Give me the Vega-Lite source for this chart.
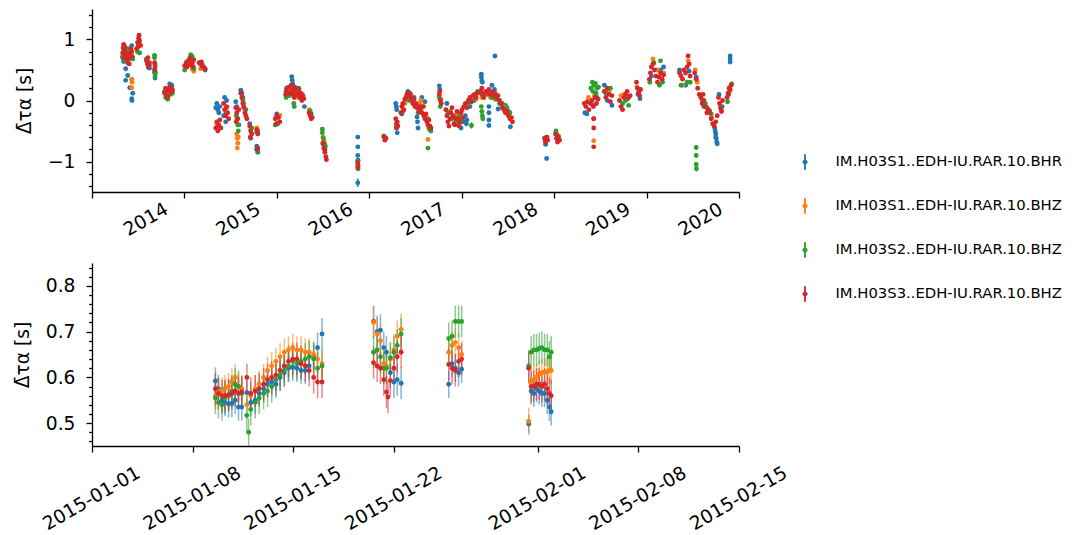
{
"$schema":"https://vega.github.io/schema/vega-lite/v6.json",
"padding":{"left":13,"top":6,"right":5,"bottom":5},
"bounds":"flush",
"spacing":71,
"datasets":{
"names":[{"s":1,"station":"IM.H03S1..EDH-IU.RAR.10.BHR"},{"s":2,"station":"IM.H03S1..EDH-IU.RAR.10.BHZ"},{"s":3,"station":"IM.H03S2..EDH-IU.RAR.10.BHZ"},{"s":4,"station":"IM.H03S3..EDH-IU.RAR.10.BHZ"}],
"top":[
{"t":"2013-05-02","s":1,"v":0.70},{"t":"2013-05-06","s":1,"v":0.64},{"t":"2013-05-10","s":1,"v":0.75},{"t":"2013-05-14","s":1,"v":0.52},{"t":"2013-05-14","s":1,"v":0.33},{"t":"2013-05-22","s":1,"v":0.41},{"t":"2013-05-30","s":1,"v":0.21},{"t":"2013-06-07","s":1,"v":0.03},{"t":"2013-06-08","s":1,"v":0.0},{"t":"2013-06-11","s":1,"v":0.12},{"t":"2013-06-07","s":1,"v":0.90},{"t":"2013-06-03","s":1,"v":0.85},{"t":"2013-05-18","s":1,"v":0.82},
{"t":"2013-07-04","s":1,"v":0.95},{"t":"2013-08-12","s":1,"v":0.54},{"t":"2013-08-16","s":1,"v":0.53},{"t":"2013-09-07","s":1,"v":0.37},{"t":"2013-09-05","s":1,"v":0.46},
{"t":"2013-10-15","s":1,"v":0.15},{"t":"2013-11-04","s":1,"v":0.27},{"t":"2013-11-12","s":1,"v":0.25},{"t":"2013-10-27","s":1,"v":0.04},
{"t":"2014-01-20","s":1,"v":0.60},{"t":"2014-02-01","s":1,"v":0.63},{"t":"2014-01-08","s":1,"v":0.55},{"t":"2014-03-24","s":1,"v":0.50},{"t":"2014-03-18","s":1,"v":0.53},
{"t":"2014-05-05","s":1,"v":-0.12},{"t":"2014-05-09","s":1,"v":-0.05},{"t":"2014-05-13","s":1,"v":-0.15},{"t":"2014-05-17","s":1,"v":-0.20},{"t":"2014-05-21","s":1,"v":-0.10},
{"t":"2014-06-09","s":1,"v":0.05},{"t":"2014-06-13","s":1,"v":-0.35},{"t":"2014-06-05","s":1,"v":-0.25},{"t":"2014-06-17","s":1,"v":0.0},
{"t":"2014-07-23","s":1,"v":-0.02},{"t":"2014-07-27","s":1,"v":-0.10},{"t":"2014-08-04","s":1,"v":-0.40},
{"t":"2014-08-12","s":1,"v":0.17},{"t":"2014-08-16","s":1,"v":0.12},{"t":"2014-08-20","s":1,"v":0.05},{"t":"2014-08-24","s":1,"v":-0.10},
{"t":"2014-09-20","s":1,"v":-0.62},{"t":"2014-09-16","s":1,"v":-0.38},{"t":"2014-10-14","s":1,"v":-0.52},{"t":"2014-10-18","s":1,"v":-0.85},{"t":"2014-10-14","s":1,"v":-0.75},
{"t":"2015-01-01","s":1,"v":-0.22},{"t":"2015-01-09","s":1,"v":-0.27},
{"t":"2015-02-07","s":1,"v":0.15},{"t":"2015-03-01","s":1,"v":0.39},{"t":"2015-03-03","s":1,"v":0.33},{"t":"2015-03-05","s":1,"v":0.27},{"t":"2015-03-13","s":1,"v":0.22},{"t":"2015-03-21","s":1,"v":0.20},{"t":"2015-04-04","s":1,"v":0.12},{"t":"2015-04-20","s":1,"v":-0.10},
{"t":"2015-05-17","s":1,"v":-0.22},{"t":"2015-07-04","s":1,"v":-0.72},{"t":"2015-07-10","s":1,"v":-0.80},
{"t":"2015-11-17","s":1,"v":-0.60},{"t":"2015-11-17","s":1,"v":-0.76},{"t":"2015-11-17","s":1,"v":-0.90},{"t":"2015-11-18","s":1,"v":-0.98},{"t":"2015-11-17","s":1,"v":-1.35,"e":0.07},
{"t":"2016-04-15","s":1,"v":-0.05},{"t":"2016-04-17","s":1,"v":-0.10},{"t":"2016-04-19","s":1,"v":-0.15},{"t":"2016-04-21","s":1,"v":-0.53},{"t":"2016-04-17","s":1,"v":-0.45},
{"t":"2016-05-09","s":1,"v":-0.22},{"t":"2016-06-02","s":1,"v":0.15},{"t":"2016-06-10","s":1,"v":0.12},{"t":"2016-06-26","s":1,"v":0.05},{"t":"2016-07-08","s":1,"v":-0.27},{"t":"2016-07-10","s":1,"v":-0.35},{"t":"2016-07-12","s":1,"v":-0.45},{"t":"2016-07-16","s":1,"v":-0.15},
{"t":"2016-07-27","s":1,"v":0.05},{"t":"2016-08-08","s":1,"v":-0.02},{"t":"2016-08-20","s":1,"v":-0.30},{"t":"2016-08-28","s":1,"v":-0.48},
{"t":"2016-10-04","s":1,"v":0.24},{"t":"2016-10-06","s":1,"v":0.18},
{"t":"2016-11-03","s":1,"v":-0.05},{"t":"2016-11-19","s":1,"v":-0.30},{"t":"2016-12-05","s":1,"v":-0.25},{"t":"2016-12-21","s":1,"v":-0.38},{"t":"2016-12-29","s":1,"v":-0.45},{"t":"2017-01-06","s":1,"v":-0.35},
{"t":"2017-01-15","s":1,"v":-0.25},{"t":"2017-01-21","s":1,"v":-0.32},{"t":"2017-01-19","s":1,"v":-0.38},{"t":"2017-02-02","s":1,"v":-0.10},{"t":"2017-02-20","s":1,"v":0.0},
{"t":"2017-03-19","s":1,"v":0.43},{"t":"2017-03-19","s":1,"v":0.38},{"t":"2017-03-21","s":1,"v":0.32},{"t":"2017-03-23","s":1,"v":0.30},{"t":"2017-05-12","s":1,"v":0.73},
{"t":"2017-04-18","s":1,"v":-0.10},{"t":"2017-04-18","s":1,"v":-0.20},{"t":"2017-04-18","s":1,"v":-0.32},{"t":"2017-04-18","s":1,"v":-0.41},{"t":"2017-04-30","s":1,"v":0.25},{"t":"2017-05-24","s":1,"v":-0.14},{"t":"2017-05-10","s":1,"v":0.18},
{"t":"2017-07-12","s":1,"v":-0.43},{"t":"2017-06-22","s":1,"v":-0.08},{"t":"2017-07-04","s":1,"v":-0.18},
{"t":"2017-11-28","s":1,"v":-0.72},{"t":"2017-12-02","s":1,"v":-0.95},{"t":"2018-01-14","s":1,"v":-0.63},
{"t":"2018-05-02","s":1,"v":-0.20},{"t":"2018-05-10","s":1,"v":-0.22},{"t":"2018-06-03","s":1,"v":-0.08},{"t":"2018-06-19","s":1,"v":0.05},
{"t":"2018-07-18","s":1,"v":0.25},{"t":"2018-08-17","s":1,"v":-0.08},{"t":"2018-07-30","s":1,"v":0.0},{"t":"2018-10-16","s":1,"v":0.02},{"t":"2018-12-06","s":1,"v":0.03},{"t":"2018-11-28","s":1,"v":0.10},
{"t":"2019-03-09","s":1,"v":0.55},{"t":"2019-01-20","s":1,"v":0.40},{"t":"2019-02-25","s":1,"v":0.50},{"t":"2019-05-11","s":1,"v":0.50},{"t":"2019-06-04","s":1,"v":0.25},{"t":"2019-06-18","s":1,"v":0.48},
{"t":"2019-07-16","s":1,"v":0.38},{"t":"2019-08-27","s":1,"v":-0.12},
{"t":"2019-09-27","s":1,"v":-0.45},{"t":"2019-09-29","s":1,"v":-0.50},{"t":"2019-10-01","s":1,"v":-0.55},{"t":"2019-10-03","s":1,"v":-0.62},{"t":"2019-10-05","s":1,"v":-0.68},{"t":"2019-10-07","s":1,"v":-0.71},{"t":"2019-10-01","s":1,"v":-0.60},
{"t":"2019-10-14","s":1,"v":0.10},{"t":"2019-10-26","s":1,"v":-0.10},{"t":"2019-11-27","s":1,"v":0.73},{"t":"2019-11-27","s":1,"v":0.68},{"t":"2019-11-27","s":1,"v":0.63},{"t":"2019-11-21","s":1,"v":0.10},

{"t":"2013-05-06","s":2,"v":0.78},{"t":"2013-05-18","s":2,"v":0.80},{"t":"2013-06-07","s":2,"v":0.35},{"t":"2013-06-08","s":2,"v":0.30},{"t":"2013-06-07","s":2,"v":0.21},{"t":"2013-05-26","s":2,"v":0.72},
{"t":"2013-07-08","s":2,"v":0.93},{"t":"2013-08-12","s":2,"v":0.60},{"t":"2013-09-07","s":2,"v":0.58},{"t":"2013-10-23","s":2,"v":0.10},{"t":"2013-11-08","s":2,"v":0.18},
{"t":"2014-02-07","s":2,"v":0.48},{"t":"2014-01-26","s":2,"v":0.65},{"t":"2014-02-01","s":2,"v":0.52},{"t":"2014-03-06","s":2,"v":0.52},
{"t":"2014-05-09","s":2,"v":-0.38},{"t":"2014-06-17","s":2,"v":-0.12},
{"t":"2014-07-27","s":2,"v":-0.55},{"t":"2014-07-29","s":2,"v":-0.62},{"t":"2014-07-31","s":2,"v":-0.70},{"t":"2014-07-29","s":2,"v":-0.78},{"t":"2014-08-02","s":2,"v":-0.60},
{"t":"2014-08-24","s":2,"v":-0.05},{"t":"2014-09-20","s":2,"v":-0.48},{"t":"2014-10-14","s":2,"v":-0.45},{"t":"2015-01-13","s":2,"v":-0.24},
{"t":"2015-02-15","s":2,"v":0.10},{"t":"2015-03-05","s":2,"v":0.15},{"t":"2015-03-27","s":2,"v":0.05},{"t":"2015-04-12","s":2,"v":0.10},
{"t":"2015-05-09","s":2,"v":-0.15},{"t":"2015-07-02","s":2,"v":-0.60},{"t":"2015-07-06","s":2,"v":-0.65},{"t":"2015-11-17","s":2,"v":-1.05},
{"t":"2016-03-03","s":2,"v":-0.60},{"t":"2016-04-21","s":2,"v":-0.40},{"t":"2016-05-21","s":2,"v":-0.05},{"t":"2016-06-14","s":2,"v":0.10},{"t":"2016-07-20","s":2,"v":-0.05},
{"t":"2016-07-23","s":2,"v":0.0},{"t":"2016-08-04","s":2,"v":-0.10},{"t":"2016-08-20","s":2,"v":-0.64},{"t":"2016-08-16","s":2,"v":-0.28},
{"t":"2016-10-10","s":2,"v":0.02},{"t":"2016-11-15","s":2,"v":-0.18},{"t":"2016-12-13","s":2,"v":-0.22},
{"t":"2017-02-02","s":2,"v":-0.02},{"t":"2017-02-26","s":2,"v":0.02},{"t":"2017-03-21","s":2,"v":0.05},{"t":"2017-03-25","s":2,"v":0.08},
{"t":"2017-04-24","s":2,"v":0.05},{"t":"2017-05-12","s":2,"v":0.02},{"t":"2017-06-16","s":2,"v":-0.10},
{"t":"2017-12-02","s":2,"v":-0.64},{"t":"2018-01-18","s":2,"v":-0.58},
{"t":"2018-06-06","s":2,"v":-0.30},{"t":"2018-06-06","s":2,"v":-0.66},{"t":"2018-06-09","s":2,"v":0.08},{"t":"2018-05-16","s":2,"v":0.05},
{"t":"2018-08-05","s":2,"v":0.15},{"t":"2018-10-04","s":2,"v":0.10},{"t":"2018-09-22","s":2,"v":0.08},{"t":"2018-11-24","s":2,"v":0.22},
{"t":"2019-01-26","s":2,"v":0.68},{"t":"2019-02-13","s":2,"v":0.50},{"t":"2019-03-09","s":2,"v":0.45},{"t":"2019-05-23","s":2,"v":0.25},{"t":"2019-06-14","s":2,"v":0.65},
{"t":"2019-07-12","s":2,"v":0.50},{"t":"2019-07-20","s":2,"v":0.30},{"t":"2019-09-15","s":2,"v":-0.28},{"t":"2019-11-25","s":2,"v":0.15},

{"t":"2013-05-02","s":3,"v":0.72},{"t":"2013-05-06","s":3,"v":0.80},{"t":"2013-05-14","s":3,"v":0.78},{"t":"2013-05-22","s":3,"v":0.85},{"t":"2013-05-30","s":3,"v":0.70},{"t":"2013-06-07","s":3,"v":0.72},{"t":"2013-06-11","s":3,"v":0.68},{"t":"2013-05-10","s":3,"v":0.66},
{"t":"2013-06-30","s":3,"v":0.80},{"t":"2013-07-08","s":3,"v":0.78},{"t":"2013-07-04","s":3,"v":0.92},{"t":"2013-08-04","s":3,"v":0.68},{"t":"2013-08-16","s":3,"v":0.58},
{"t":"2013-09-05","s":3,"v":0.74},{"t":"2013-09-05","s":3,"v":0.70},{"t":"2013-09-07","s":3,"v":0.60},{"t":"2013-09-05","s":3,"v":0.50},{"t":"2013-09-09","s":3,"v":0.45},{"t":"2013-09-07","s":3,"v":0.40},
{"t":"2013-10-19","s":3,"v":0.05},{"t":"2013-10-27","s":3,"v":0.02},{"t":"2013-11-08","s":3,"v":0.10},{"t":"2013-11-15","s":3,"v":0.12},
{"t":"2014-01-02","s":3,"v":0.50},{"t":"2014-01-26","s":3,"v":0.75},{"t":"2014-02-01","s":3,"v":0.72},{"t":"2014-01-14","s":3,"v":0.65},{"t":"2014-02-07","s":3,"v":0.52},{"t":"2014-03-12","s":3,"v":0.60},
{"t":"2014-05-13","s":3,"v":-0.42},{"t":"2014-06-13","s":3,"v":-0.22},
{"t":"2014-07-27","s":3,"v":-0.32},{"t":"2014-07-31","s":3,"v":-0.40},{"t":"2014-08-02","s":3,"v":-0.50},{"t":"2014-07-25","s":3,"v":-0.25},
{"t":"2014-08-20","s":3,"v":0.0},{"t":"2014-09-01","s":3,"v":-0.15},{"t":"2014-09-24","s":3,"v":-0.45},{"t":"2014-10-18","s":3,"v":-0.50},{"t":"2014-10-18","s":3,"v":-0.82},
{"t":"2014-12-26","s":3,"v":-0.40},{"t":"2015-01-05","s":3,"v":-0.38},
{"t":"2015-02-07","s":3,"v":0.05},{"t":"2015-02-21","s":3,"v":0.08},{"t":"2015-03-09","s":3,"v":-0.05},{"t":"2015-03-11","s":3,"v":-0.10},{"t":"2015-03-21","s":3,"v":0.10},{"t":"2015-03-29","s":3,"v":0.20},{"t":"2015-04-10","s":3,"v":0.05},{"t":"2015-02-27","s":3,"v":0.12},
{"t":"2015-05-13","s":3,"v":-0.17},
{"t":"2015-06-30","s":3,"v":-0.47},{"t":"2015-06-30","s":3,"v":-0.53},{"t":"2015-07-04","s":3,"v":-0.62},{"t":"2015-07-08","s":3,"v":-0.70},{"t":"2015-07-12","s":3,"v":-0.75},
{"t":"2015-11-17","s":3,"v":-1.00},{"t":"2015-11-18","s":3,"v":-1.12},{"t":"2016-02-28","s":3,"v":-0.58},{"t":"2016-04-19","s":3,"v":-0.42},
{"t":"2016-05-13","s":3,"v":-0.18},{"t":"2016-06-06","s":3,"v":0.0},{"t":"2016-06-22","s":3,"v":-0.05},{"t":"2016-07-04","s":3,"v":-0.10},{"t":"2016-07-12","s":3,"v":-0.20},
{"t":"2016-08-12","s":3,"v":-0.30},{"t":"2016-08-24","s":3,"v":-0.45},{"t":"2016-08-28","s":3,"v":-0.48},{"t":"2016-09-01","s":3,"v":-0.50},{"t":"2016-08-20","s":3,"v":-0.78},
{"t":"2016-10-08","s":3,"v":-0.10},{"t":"2016-10-04","s":3,"v":0.05},
{"t":"2016-11-07","s":3,"v":-0.20},{"t":"2016-11-23","s":3,"v":-0.30},{"t":"2016-12-09","s":3,"v":-0.35},{"t":"2016-12-25","s":3,"v":-0.25},{"t":"2017-01-02","s":3,"v":-0.30},
{"t":"2017-02-08","s":3,"v":-0.41,"e":0.05},{"t":"2017-01-27","s":3,"v":-0.05},{"t":"2017-02-14","s":3,"v":0.0},{"t":"2017-03-04","s":3,"v":0.15},
{"t":"2017-03-19","s":3,"v":-0.10},{"t":"2017-03-21","s":3,"v":-0.18},{"t":"2017-03-23","s":3,"v":-0.25},{"t":"2017-03-25","s":3,"v":-0.30},{"t":"2017-03-21","s":3,"v":0.10},
{"t":"2017-04-12","s":3,"v":0.10},{"t":"2017-04-30","s":3,"v":0.05},{"t":"2017-05-18","s":3,"v":0.02},{"t":"2017-05-30","s":3,"v":-0.05},
{"t":"2017-06-10","s":3,"v":-0.05},{"t":"2017-06-28","s":3,"v":-0.12},{"t":"2017-07-10","s":3,"v":-0.20},
{"t":"2017-11-26","s":3,"v":-0.66},{"t":"2017-12-04","s":3,"v":-0.60},{"t":"2018-01-08","s":3,"v":-0.50},{"t":"2018-01-12","s":3,"v":-0.56},
{"t":"2018-05-26","s":3,"v":0.20},{"t":"2018-06-01","s":3,"v":0.30},{"t":"2018-06-07","s":3,"v":0.25},{"t":"2018-06-13","s":3,"v":0.28},{"t":"2018-06-19","s":3,"v":0.20},{"t":"2018-06-25","s":3,"v":0.22},{"t":"2018-06-03","s":3,"v":0.15},{"t":"2018-06-15","s":3,"v":0.12},
{"t":"2018-08-11","s":3,"v":0.20},{"t":"2018-07-24","s":3,"v":0.12},{"t":"2018-09-28","s":3,"v":-0.05},{"t":"2018-10-22","s":3,"v":-0.08},{"t":"2018-10-10","s":3,"v":0.0},{"t":"2018-12-02","s":3,"v":0.15},
{"t":"2019-01-30","s":3,"v":0.62},{"t":"2019-02-25","s":3,"v":0.65},{"t":"2019-02-21","s":3,"v":0.25},{"t":"2019-01-14","s":3,"v":0.30},{"t":"2019-03-05","s":3,"v":0.30},
{"t":"2019-05-17","s":3,"v":0.25},{"t":"2019-06-10","s":3,"v":0.30},{"t":"2019-06-22","s":3,"v":0.30},
{"t":"2019-08-09","s":3,"v":0.0},{"t":"2019-08-15","s":3,"v":-0.10},{"t":"2019-08-21","s":3,"v":-0.05},
{"t":"2019-07-16","s":3,"v":-0.77,"e":0.04},{"t":"2019-07-16","s":3,"v":-0.90,"e":0.04},{"t":"2019-07-16","s":3,"v":-1.05,"e":0.04},{"t":"2019-07-17","s":3,"v":-1.12,"e":0.04},
{"t":"2019-09-07","s":3,"v":-0.17},{"t":"2019-09-13","s":3,"v":-0.22},{"t":"2019-10-22","s":3,"v":-0.15},{"t":"2019-11-17","s":3,"v":-0.02},{"t":"2019-12-03","s":3,"v":0.27},

{"t":"2013-05-02","s":4,"v":0.78},{"t":"2013-05-04","s":4,"v":0.86},{"t":"2013-05-06","s":4,"v":0.92},{"t":"2013-05-10","s":4,"v":0.88},{"t":"2013-05-12","s":4,"v":0.80},{"t":"2013-05-14","s":4,"v":0.74},{"t":"2013-05-18","s":4,"v":0.70},{"t":"2013-05-22","s":4,"v":0.62},{"t":"2013-05-26","s":4,"v":0.68},{"t":"2013-05-28","s":4,"v":0.60},{"t":"2013-06-01","s":4,"v":0.78},{"t":"2013-06-03","s":4,"v":0.85},{"t":"2013-06-07","s":4,"v":0.80},{"t":"2013-06-09","s":4,"v":0.72},{"t":"2013-05-08","s":4,"v":0.70},{"t":"2013-05-20","s":4,"v":0.76},
{"t":"2013-06-26","s":4,"v":0.85},{"t":"2013-06-30","s":4,"v":0.95},{"t":"2013-07-04","s":4,"v":1.02},{"t":"2013-07-06","s":4,"v":1.07},{"t":"2013-07-08","s":4,"v":0.98},{"t":"2013-07-12","s":4,"v":0.90},{"t":"2013-07-02","s":4,"v":0.88},
{"t":"2013-08-04","s":4,"v":0.65},{"t":"2013-08-08","s":4,"v":0.60},{"t":"2013-08-12","s":4,"v":0.56},{"t":"2013-08-16","s":4,"v":0.62},{"t":"2013-08-10","s":4,"v":0.70},
{"t":"2013-09-05","s":4,"v":0.62},{"t":"2013-09-07","s":4,"v":0.55},{"t":"2013-09-06","s":4,"v":0.50},
{"t":"2013-10-15","s":4,"v":0.12},{"t":"2013-10-19","s":4,"v":0.20},{"t":"2013-10-23","s":4,"v":0.15},{"t":"2013-10-27","s":4,"v":0.08},{"t":"2013-10-31","s":4,"v":0.18},{"t":"2013-11-04","s":4,"v":0.22},{"t":"2013-11-08","s":4,"v":0.14},{"t":"2013-11-12","s":4,"v":0.20},{"t":"2013-11-15","s":4,"v":0.17},{"t":"2013-10-25","s":4,"v":0.05},
{"t":"2014-01-02","s":4,"v":0.57},{"t":"2014-01-08","s":4,"v":0.62},{"t":"2014-01-14","s":4,"v":0.60},{"t":"2014-01-20","s":4,"v":0.66},{"t":"2014-01-26","s":4,"v":0.58},{"t":"2014-02-01","s":4,"v":0.62},{"t":"2014-02-07","s":4,"v":0.67},{"t":"2014-01-11","s":4,"v":0.55},{"t":"2014-01-23","s":4,"v":0.70},{"t":"2014-02-04","s":4,"v":0.56},
{"t":"2014-02-28","s":4,"v":0.62},{"t":"2014-03-06","s":4,"v":0.60},{"t":"2014-03-12","s":4,"v":0.56},{"t":"2014-03-18","s":4,"v":0.55},{"t":"2014-03-24","s":4,"v":0.52},{"t":"2014-03-09","s":4,"v":0.63},
{"t":"2014-05-05","s":4,"v":-0.45},{"t":"2014-05-09","s":4,"v":-0.35},{"t":"2014-05-13","s":4,"v":-0.50},{"t":"2014-05-17","s":4,"v":-0.40},{"t":"2014-05-21","s":4,"v":-0.32},{"t":"2014-05-25","s":4,"v":-0.45},
{"t":"2014-06-05","s":4,"v":-0.05},{"t":"2014-06-09","s":4,"v":-0.15},{"t":"2014-06-13","s":4,"v":-0.25},{"t":"2014-06-17","s":4,"v":-0.10},{"t":"2014-06-21","s":4,"v":-0.20},{"t":"2014-06-25","s":4,"v":-0.30},
{"t":"2014-07-23","s":4,"v":-0.12},{"t":"2014-07-27","s":4,"v":-0.20},{"t":"2014-07-31","s":4,"v":-0.30},{"t":"2014-08-04","s":4,"v":-0.15},{"t":"2014-07-25","s":4,"v":-0.35},
{"t":"2014-08-12","s":4,"v":0.12},{"t":"2014-08-16","s":4,"v":0.05},{"t":"2014-08-20","s":4,"v":-0.05},{"t":"2014-08-24","s":4,"v":-0.12},{"t":"2014-08-28","s":4,"v":-0.20},{"t":"2014-09-01","s":4,"v":-0.25},{"t":"2014-09-05","s":4,"v":-0.30},
{"t":"2014-09-16","s":4,"v":-0.42},{"t":"2014-09-20","s":4,"v":-0.50},{"t":"2014-09-24","s":4,"v":-0.55},{"t":"2014-09-18","s":4,"v":-0.60},
{"t":"2014-10-14","s":4,"v":-0.48},{"t":"2014-10-18","s":4,"v":-0.55},{"t":"2014-10-14","s":4,"v":-0.80},{"t":"2014-10-18","s":4,"v":-0.78},
{"t":"2014-12-26","s":4,"v":-0.30},{"t":"2015-01-01","s":4,"v":-0.25},{"t":"2015-01-07","s":4,"v":-0.28},{"t":"2015-01-13","s":4,"v":-0.35},{"t":"2014-12-30","s":4,"v":-0.38},
{"t":"2015-02-05","s":4,"v":0.10},{"t":"2015-02-09","s":4,"v":0.20},{"t":"2015-02-13","s":4,"v":0.15},{"t":"2015-02-17","s":4,"v":0.22},{"t":"2015-02-21","s":4,"v":0.12},{"t":"2015-02-27","s":4,"v":0.25},{"t":"2015-03-03","s":4,"v":0.18},{"t":"2015-03-07","s":4,"v":0.10},{"t":"2015-03-11","s":4,"v":0.05},{"t":"2015-03-15","s":4,"v":0.20},{"t":"2015-03-19","s":4,"v":0.15},{"t":"2015-03-25","s":4,"v":0.10},{"t":"2015-03-29","s":4,"v":0.18},{"t":"2015-04-02","s":4,"v":0.05},{"t":"2015-04-06","s":4,"v":0.12},{"t":"2015-04-10","s":4,"v":0.0},{"t":"2015-04-14","s":4,"v":0.08},{"t":"2015-04-18","s":4,"v":0.03},
{"t":"2015-05-09","s":4,"v":-0.20},{"t":"2015-05-13","s":4,"v":-0.25},{"t":"2015-05-17","s":4,"v":-0.30},{"t":"2015-05-21","s":4,"v":-0.28},
{"t":"2015-07-02","s":4,"v":-0.70},{"t":"2015-07-06","s":4,"v":-0.78},{"t":"2015-07-10","s":4,"v":-0.85},{"t":"2015-07-14","s":4,"v":-0.92},{"t":"2015-07-16","s":4,"v":-0.97},{"t":"2015-07-08","s":4,"v":-0.80},
{"t":"2015-11-17","s":4,"v":-1.02},{"t":"2015-11-18","s":4,"v":-1.07},{"t":"2015-11-17","s":4,"v":-1.10},
{"t":"2016-02-28","s":4,"v":-0.60},{"t":"2016-03-03","s":4,"v":-0.65},{"t":"2016-03-07","s":4,"v":-0.62},
{"t":"2016-04-15","s":4,"v":-0.30},{"t":"2016-04-17","s":4,"v":-0.38},{"t":"2016-04-19","s":4,"v":-0.45},{"t":"2016-04-21","s":4,"v":-0.35},{"t":"2016-04-23","s":4,"v":-0.42},
{"t":"2016-05-05","s":4,"v":-0.20},{"t":"2016-05-09","s":4,"v":-0.10},{"t":"2016-05-13","s":4,"v":-0.05},{"t":"2016-05-17","s":4,"v":-0.15},{"t":"2016-05-21","s":4,"v":0.02},{"t":"2016-05-25","s":4,"v":0.05},{"t":"2016-05-29","s":4,"v":0.10},{"t":"2016-06-02","s":4,"v":0.12},{"t":"2016-06-06","s":4,"v":0.08},{"t":"2016-06-10","s":4,"v":0.10},{"t":"2016-06-14","s":4,"v":0.05},{"t":"2016-06-18","s":4,"v":0.0},{"t":"2016-06-22","s":4,"v":-0.05},{"t":"2016-06-26","s":4,"v":0.02},{"t":"2016-06-30","s":4,"v":-0.10},{"t":"2016-07-04","s":4,"v":-0.05},{"t":"2016-07-08","s":4,"v":-0.12},{"t":"2016-07-12","s":4,"v":-0.10},{"t":"2016-07-16","s":4,"v":-0.18},{"t":"2016-07-20","s":4,"v":-0.10},
{"t":"2016-07-23","s":4,"v":-0.15},{"t":"2016-07-27","s":4,"v":-0.20},{"t":"2016-07-31","s":4,"v":-0.10},{"t":"2016-08-04","s":4,"v":-0.25},{"t":"2016-08-08","s":4,"v":-0.30},{"t":"2016-08-12","s":4,"v":-0.22},{"t":"2016-08-16","s":4,"v":-0.35},{"t":"2016-08-20","s":4,"v":-0.40},{"t":"2016-08-24","s":4,"v":-0.32},{"t":"2016-08-28","s":4,"v":-0.42},{"t":"2016-09-01","s":4,"v":-0.45},
{"t":"2016-10-04","s":4,"v":0.10},{"t":"2016-10-08","s":4,"v":0.0},{"t":"2016-10-12","s":4,"v":-0.05},{"t":"2016-10-06","s":4,"v":0.15},
{"t":"2016-10-30","s":4,"v":-0.15},{"t":"2016-11-03","s":4,"v":-0.25},{"t":"2016-11-07","s":4,"v":-0.35},{"t":"2016-11-11","s":4,"v":-0.42},{"t":"2016-11-15","s":4,"v":-0.30},{"t":"2016-11-19","s":4,"v":-0.20},{"t":"2016-11-23","s":4,"v":-0.12},{"t":"2016-11-27","s":4,"v":-0.25},{"t":"2016-12-01","s":4,"v":-0.38},{"t":"2016-12-05","s":4,"v":-0.40},{"t":"2016-12-09","s":4,"v":-0.30},{"t":"2016-12-13","s":4,"v":-0.18},{"t":"2016-12-17","s":4,"v":-0.30},{"t":"2016-12-21","s":4,"v":-0.42},{"t":"2016-12-25","s":4,"v":-0.35},{"t":"2016-12-29","s":4,"v":-0.20},{"t":"2017-01-02","s":4,"v":-0.15},{"t":"2017-01-06","s":4,"v":-0.28},
{"t":"2017-01-09","s":4,"v":-0.10},{"t":"2017-01-15","s":4,"v":-0.05},{"t":"2017-01-21","s":4,"v":-0.12},{"t":"2017-01-27","s":4,"v":0.0},{"t":"2017-02-02","s":4,"v":0.05},{"t":"2017-02-08","s":4,"v":-0.02},{"t":"2017-02-14","s":4,"v":0.08},{"t":"2017-02-20","s":4,"v":0.10},{"t":"2017-02-26","s":4,"v":0.05},{"t":"2017-03-04","s":4,"v":0.12},
{"t":"2017-03-17","s":4,"v":0.15},{"t":"2017-03-21","s":4,"v":0.20},{"t":"2017-03-25","s":4,"v":0.10},{"t":"2017-03-29","s":4,"v":0.05},
{"t":"2017-04-06","s":4,"v":0.15},{"t":"2017-04-12","s":4,"v":0.12},{"t":"2017-04-18","s":4,"v":0.18},{"t":"2017-04-24","s":4,"v":0.10},{"t":"2017-04-30","s":4,"v":0.14},{"t":"2017-05-06","s":4,"v":0.08},{"t":"2017-05-12","s":4,"v":0.12},{"t":"2017-05-18","s":4,"v":0.05},{"t":"2017-05-24","s":4,"v":0.08},{"t":"2017-05-30","s":4,"v":0.0},
{"t":"2017-06-04","s":4,"v":-0.05},{"t":"2017-06-10","s":4,"v":-0.12},{"t":"2017-06-16","s":4,"v":-0.15},{"t":"2017-06-22","s":4,"v":-0.20},{"t":"2017-06-28","s":4,"v":-0.18},{"t":"2017-07-04","s":4,"v":-0.25},{"t":"2017-07-10","s":4,"v":-0.30},{"t":"2017-07-16","s":4,"v":-0.28},{"t":"2017-07-20","s":4,"v":-0.35},
{"t":"2017-11-24","s":4,"v":-0.62},{"t":"2017-11-28","s":4,"v":-0.68},{"t":"2017-12-02","s":4,"v":-0.60},{"t":"2017-12-06","s":4,"v":-0.65},
{"t":"2018-01-06","s":4,"v":-0.55},{"t":"2018-01-10","s":4,"v":-0.62},{"t":"2018-01-14","s":4,"v":-0.68},{"t":"2018-01-18","s":4,"v":-0.60},{"t":"2018-01-22","s":4,"v":-0.65},
{"t":"2018-04-30","s":4,"v":-0.05},{"t":"2018-05-06","s":4,"v":-0.10},{"t":"2018-05-12","s":4,"v":-0.02},{"t":"2018-05-18","s":4,"v":-0.15},{"t":"2018-05-24","s":4,"v":-0.05},{"t":"2018-05-30","s":4,"v":0.0},{"t":"2018-06-05","s":4,"v":-0.10},{"t":"2018-06-11","s":4,"v":0.05},{"t":"2018-06-17","s":4,"v":-0.05},{"t":"2018-06-23","s":4,"v":0.02},{"t":"2018-06-06","s":4,"v":-0.30},{"t":"2018-06-06","s":4,"v":-0.45},{"t":"2018-06-06","s":4,"v":-0.76},
{"t":"2018-07-18","s":4,"v":0.15},{"t":"2018-07-24","s":4,"v":0.05},{"t":"2018-07-30","s":4,"v":0.20},{"t":"2018-08-05","s":4,"v":0.10},{"t":"2018-08-11","s":4,"v":-0.02},{"t":"2018-08-17","s":4,"v":0.08},
{"t":"2018-09-16","s":4,"v":0.0},{"t":"2018-09-22","s":4,"v":-0.10},{"t":"2018-09-28","s":4,"v":-0.15},{"t":"2018-10-04","s":4,"v":0.05},{"t":"2018-10-10","s":4,"v":0.10},{"t":"2018-10-16","s":4,"v":0.15},{"t":"2018-10-22","s":4,"v":0.05},{"t":"2018-10-28","s":4,"v":0.08},
{"t":"2018-11-22","s":4,"v":0.30},{"t":"2018-11-26","s":4,"v":0.20},{"t":"2018-11-30","s":4,"v":0.12},{"t":"2018-12-04","s":4,"v":0.08},{"t":"2018-12-08","s":4,"v":0.18},
{"t":"2019-01-12","s":4,"v":0.35},{"t":"2019-01-16","s":4,"v":0.45},{"t":"2019-01-20","s":4,"v":0.55},{"t":"2019-01-26","s":4,"v":0.60},{"t":"2019-02-01","s":4,"v":0.50},{"t":"2019-02-07","s":4,"v":0.40},{"t":"2019-02-13","s":4,"v":0.30},{"t":"2019-02-19","s":4,"v":0.38},{"t":"2019-02-25","s":4,"v":0.45},{"t":"2019-03-03","s":4,"v":0.35},{"t":"2019-03-09","s":4,"v":0.42},
{"t":"2019-05-11","s":4,"v":0.45},{"t":"2019-05-17","s":4,"v":0.40},{"t":"2019-05-23","s":4,"v":0.35},{"t":"2019-05-29","s":4,"v":0.50},{"t":"2019-06-04","s":4,"v":0.45},{"t":"2019-06-10","s":4,"v":0.55},{"t":"2019-06-14","s":4,"v":0.73},{"t":"2019-06-18","s":4,"v":0.60},{"t":"2019-06-22","s":4,"v":0.40},
{"t":"2019-07-10","s":4,"v":0.45},{"t":"2019-07-16","s":4,"v":0.35},{"t":"2019-07-22","s":4,"v":0.20},{"t":"2019-07-28","s":4,"v":0.10},{"t":"2019-08-03","s":4,"v":0.05},{"t":"2019-08-09","s":4,"v":-0.05},{"t":"2019-08-15","s":4,"v":0.0},{"t":"2019-08-21","s":4,"v":-0.10},{"t":"2019-08-27","s":4,"v":-0.20},{"t":"2019-09-02","s":4,"v":-0.15},{"t":"2019-08-12","s":4,"v":0.10},
{"t":"2019-09-07","s":4,"v":-0.20},{"t":"2019-09-13","s":4,"v":-0.30},{"t":"2019-09-19","s":4,"v":-0.38},{"t":"2019-09-25","s":4,"v":-0.42},{"t":"2019-10-01","s":4,"v":-0.35},{"t":"2019-10-07","s":4,"v":-0.25},
{"t":"2019-10-12","s":4,"v":0.05},{"t":"2019-10-16","s":4,"v":-0.05},{"t":"2019-10-20","s":4,"v":-0.12},{"t":"2019-10-24","s":4,"v":-0.18},{"t":"2019-10-28","s":4,"v":0.0},
{"t":"2019-11-15","s":4,"v":0.05},{"t":"2019-11-19","s":4,"v":0.12},{"t":"2019-11-23","s":4,"v":0.20},{"t":"2019-11-27","s":4,"v":0.18},{"t":"2019-12-01","s":4,"v":0.25}
],
"bot":[
{"t":"2015-01-09T14:00","s":1,"v":0.592,"e":0.03},{"t":"2015-01-09T19:00","s":1,"v":0.575,"e":0.03},{"t":"2015-01-10T01:00","s":1,"v":0.55,"e":0.03},{"t":"2015-01-10T06:00","s":1,"v":0.545,"e":0.03},{"t":"2015-01-10T12:00","s":1,"v":0.542,"e":0.03},{"t":"2015-01-10T17:30","s":1,"v":0.543,"e":0.03},{"t":"2015-01-10T23:00","s":1,"v":0.55,"e":0.03},{"t":"2015-01-11T04:30","s":1,"v":0.535,"e":0.03},{"t":"2015-01-11T10:00","s":1,"v":0.535,"e":0.03},
{"t":"2015-01-11T18:30","s":1,"v":0.567,"e":0.03},{"t":"2015-01-12T01:00","s":1,"v":0.545,"e":0.03},{"t":"2015-01-12T08:30","s":1,"v":0.55,"e":0.03},{"t":"2015-01-12T15:00","s":1,"v":0.565,"e":0.03},{"t":"2015-01-12T22:30","s":1,"v":0.575,"e":0.03},{"t":"2015-01-13T05:00","s":1,"v":0.585,"e":0.03},{"t":"2015-01-13T12:00","s":1,"v":0.59,"e":0.03},{"t":"2015-01-13T19:00","s":1,"v":0.585,"e":0.03},{"t":"2015-01-14T02:00","s":1,"v":0.60,"e":0.03},{"t":"2015-01-14T09:00","s":1,"v":0.61,"e":0.03},{"t":"2015-01-14T16:00","s":1,"v":0.62,"e":0.03},{"t":"2015-01-14T23:00","s":1,"v":0.622,"e":0.03},{"t":"2015-01-15T06:00","s":1,"v":0.62,"e":0.03},{"t":"2015-01-15T13:00","s":1,"v":0.615,"e":0.03},{"t":"2015-01-15T20:00","s":1,"v":0.615,"e":0.03},{"t":"2015-01-16T02:30","s":1,"v":0.625,"e":0.03},{"t":"2015-01-16T10:00","s":1,"v":0.645,"e":0.03},{"t":"2015-01-16T16:30","s":1,"v":0.665,"e":0.033},{"t":"2015-01-17T00:00","s":1,"v":0.695,"e":0.035},
{"t":"2015-01-20T14:00","s":1,"v":0.722,"e":0.035},{"t":"2015-01-20T20:00","s":1,"v":0.70,"e":0.035},{"t":"2015-01-21T01:30","s":1,"v":0.703,"e":0.035},{"t":"2015-01-21T07:00","s":1,"v":0.665,"e":0.035},{"t":"2015-01-21T11:30","s":1,"v":0.655,"e":0.035},
{"t":"2015-01-21T18:00","s":1,"v":0.61,"e":0.035},{"t":"2015-01-22T00:00","s":1,"v":0.59,"e":0.035},{"t":"2015-01-22T05:30","s":1,"v":0.595,"e":0.035},{"t":"2015-01-22T12:00","s":1,"v":0.587,"e":0.035},
{"t":"2015-01-25T19:30","s":1,"v":0.585,"e":0.03},{"t":"2015-01-26T01:00","s":1,"v":0.63,"e":0.03},{"t":"2015-01-26T06:30","s":1,"v":0.62,"e":0.03},{"t":"2015-01-26T12:00","s":1,"v":0.61,"e":0.03},{"t":"2015-01-26T17:00","s":1,"v":0.618,"e":0.03},
{"t":"2015-01-31T09:00","s":1,"v":0.498,"e":0.02},{"t":"2015-01-31T13:00","s":1,"v":0.57,"e":0.03},{"t":"2015-01-31T17:30","s":1,"v":0.565,"e":0.03},{"t":"2015-01-31T22:00","s":1,"v":0.575,"e":0.03},{"t":"2015-02-01T02:30","s":1,"v":0.57,"e":0.03},{"t":"2015-02-01T07:00","s":1,"v":0.565,"e":0.03},{"t":"2015-02-01T11:30","s":1,"v":0.565,"e":0.03},{"t":"2015-02-01T16:00","s":1,"v":0.55,"e":0.03},{"t":"2015-02-01T19:30","s":1,"v":0.535,"e":0.03},{"t":"2015-02-01T22:30","s":1,"v":0.525,"e":0.03},

{"t":"2015-01-09T14:00","s":2,"v":0.56,"e":0.03},{"t":"2015-01-09T19:00","s":2,"v":0.57,"e":0.03},{"t":"2015-01-10T01:00","s":2,"v":0.57,"e":0.03},{"t":"2015-01-10T06:00","s":2,"v":0.575,"e":0.03},{"t":"2015-01-10T12:00","s":2,"v":0.58,"e":0.03},{"t":"2015-01-10T17:30","s":2,"v":0.59,"e":0.03},{"t":"2015-01-10T23:00","s":2,"v":0.60,"e":0.03},{"t":"2015-01-11T04:30","s":2,"v":0.58,"e":0.03},{"t":"2015-01-11T10:00","s":2,"v":0.575,"e":0.03},
{"t":"2015-01-11T18:30","s":2,"v":0.54,"e":0.03},{"t":"2015-01-12T01:00","s":2,"v":0.56,"e":0.03},{"t":"2015-01-12T08:30","s":2,"v":0.575,"e":0.03},{"t":"2015-01-12T15:00","s":2,"v":0.585,"e":0.03},{"t":"2015-01-12T22:30","s":2,"v":0.60,"e":0.03},{"t":"2015-01-13T05:00","s":2,"v":0.615,"e":0.03},{"t":"2015-01-13T12:00","s":2,"v":0.625,"e":0.03},{"t":"2015-01-13T19:00","s":2,"v":0.635,"e":0.03},{"t":"2015-01-14T02:00","s":2,"v":0.645,"e":0.03},{"t":"2015-01-14T09:00","s":2,"v":0.655,"e":0.03},{"t":"2015-01-14T16:00","s":2,"v":0.66,"e":0.03},{"t":"2015-01-14T23:00","s":2,"v":0.665,"e":0.03},{"t":"2015-01-15T06:00","s":2,"v":0.66,"e":0.03},{"t":"2015-01-15T13:00","s":2,"v":0.66,"e":0.03},{"t":"2015-01-15T20:00","s":2,"v":0.655,"e":0.03},{"t":"2015-01-16T02:30","s":2,"v":0.655,"e":0.03},{"t":"2015-01-16T10:00","s":2,"v":0.65,"e":0.03},{"t":"2015-01-16T16:30","s":2,"v":0.64,"e":0.03},{"t":"2015-01-17T00:00","s":2,"v":0.63,"e":0.03},
{"t":"2015-01-20T14:00","s":2,"v":0.72,"e":0.035},{"t":"2015-01-20T20:00","s":2,"v":0.695,"e":0.035},{"t":"2015-01-21T01:30","s":2,"v":0.68,"e":0.035},{"t":"2015-01-21T07:00","s":2,"v":0.63,"e":0.035},{"t":"2015-01-21T11:30","s":2,"v":0.625,"e":0.035},
{"t":"2015-01-21T18:00","s":2,"v":0.64,"e":0.035},{"t":"2015-01-22T00:00","s":2,"v":0.66,"e":0.035},{"t":"2015-01-22T05:30","s":2,"v":0.69,"e":0.035},{"t":"2015-01-22T12:00","s":2,"v":0.705,"e":0.035},
{"t":"2015-01-25T19:30","s":2,"v":0.655,"e":0.03},{"t":"2015-01-26T01:00","s":2,"v":0.67,"e":0.03},{"t":"2015-01-26T06:30","s":2,"v":0.676,"e":0.03},{"t":"2015-01-26T12:00","s":2,"v":0.665,"e":0.03},{"t":"2015-01-26T17:00","s":2,"v":0.65,"e":0.03},
{"t":"2015-01-31T09:00","s":2,"v":0.504,"e":0.03},{"t":"2015-01-31T13:00","s":2,"v":0.59,"e":0.03},{"t":"2015-01-31T17:30","s":2,"v":0.595,"e":0.03},{"t":"2015-01-31T22:00","s":2,"v":0.60,"e":0.03},{"t":"2015-02-01T02:30","s":2,"v":0.607,"e":0.03},{"t":"2015-02-01T07:00","s":2,"v":0.61,"e":0.03},{"t":"2015-02-01T11:30","s":2,"v":0.612,"e":0.03},{"t":"2015-02-01T16:00","s":2,"v":0.612,"e":0.03},{"t":"2015-02-01T19:30","s":2,"v":0.615,"e":0.03},{"t":"2015-02-01T22:30","s":2,"v":0.615,"e":0.03},

{"t":"2015-01-09T14:00","s":3,"v":0.555,"e":0.035},{"t":"2015-01-09T19:00","s":3,"v":0.545,"e":0.035},{"t":"2015-01-10T01:00","s":3,"v":0.54,"e":0.035},{"t":"2015-01-10T06:00","s":3,"v":0.555,"e":0.035},{"t":"2015-01-10T12:00","s":3,"v":0.56,"e":0.035},{"t":"2015-01-10T17:30","s":3,"v":0.57,"e":0.035},{"t":"2015-01-10T23:00","s":3,"v":0.585,"e":0.035},{"t":"2015-01-11T04:30","s":3,"v":0.58,"e":0.035},{"t":"2015-01-11T10:00","s":3,"v":0.565,"e":0.035},
{"t":"2015-01-11T18:30","s":3,"v":0.517,"e":0.035},{"t":"2015-01-11T21:30","s":3,"v":0.48,"e":0.03},{"t":"2015-01-12T01:00","s":3,"v":0.53,"e":0.035},{"t":"2015-01-12T08:30","s":3,"v":0.545,"e":0.035},{"t":"2015-01-12T15:00","s":3,"v":0.555,"e":0.035},{"t":"2015-01-12T22:30","s":3,"v":0.565,"e":0.035},{"t":"2015-01-13T05:00","s":3,"v":0.57,"e":0.035},{"t":"2015-01-13T12:00","s":3,"v":0.58,"e":0.035},{"t":"2015-01-13T19:00","s":3,"v":0.595,"e":0.035},{"t":"2015-01-14T02:00","s":3,"v":0.605,"e":0.035},{"t":"2015-01-14T09:00","s":3,"v":0.615,"e":0.035},{"t":"2015-01-14T16:00","s":3,"v":0.625,"e":0.035},{"t":"2015-01-14T23:00","s":3,"v":0.635,"e":0.035},{"t":"2015-01-15T06:00","s":3,"v":0.63,"e":0.035},{"t":"2015-01-15T13:00","s":3,"v":0.635,"e":0.035},{"t":"2015-01-15T20:00","s":3,"v":0.64,"e":0.035},{"t":"2015-01-16T02:30","s":3,"v":0.645,"e":0.035},{"t":"2015-01-16T10:00","s":3,"v":0.64,"e":0.035},{"t":"2015-01-16T16:30","s":3,"v":0.62,"e":0.035},{"t":"2015-01-17T00:00","s":3,"v":0.625,"e":0.035},
{"t":"2015-01-20T14:00","s":3,"v":0.655,"e":0.035},{"t":"2015-01-20T20:00","s":3,"v":0.66,"e":0.035},{"t":"2015-01-21T01:30","s":3,"v":0.645,"e":0.035},{"t":"2015-01-21T07:00","s":3,"v":0.62,"e":0.035},{"t":"2015-01-21T11:30","s":3,"v":0.62,"e":0.035},
{"t":"2015-01-21T18:00","s":3,"v":0.643,"e":0.035},{"t":"2015-01-22T00:00","s":3,"v":0.655,"e":0.035},{"t":"2015-01-22T05:30","s":3,"v":0.67,"e":0.035},{"t":"2015-01-22T12:00","s":3,"v":0.695,"e":0.035},
{"t":"2015-01-25T19:30","s":3,"v":0.685,"e":0.035},{"t":"2015-01-26T01:00","s":3,"v":0.69,"e":0.035},{"t":"2015-01-26T06:30","s":3,"v":0.722,"e":0.035},{"t":"2015-01-26T12:00","s":3,"v":0.722,"e":0.035},{"t":"2015-01-26T17:00","s":3,"v":0.722,"e":0.035},
{"t":"2015-01-31T09:00","s":3,"v":0.625,"e":0.035},{"t":"2015-01-31T13:00","s":3,"v":0.655,"e":0.035},{"t":"2015-01-31T17:30","s":3,"v":0.66,"e":0.035},{"t":"2015-01-31T22:00","s":3,"v":0.66,"e":0.035},{"t":"2015-02-01T02:30","s":3,"v":0.663,"e":0.035},{"t":"2015-02-01T07:00","s":3,"v":0.665,"e":0.035},{"t":"2015-02-01T11:30","s":3,"v":0.66,"e":0.035},{"t":"2015-02-01T16:00","s":3,"v":0.66,"e":0.035},{"t":"2015-02-01T19:30","s":3,"v":0.645,"e":0.035},{"t":"2015-02-01T22:30","s":3,"v":0.655,"e":0.035},

{"t":"2015-01-09T14:00","s":4,"v":0.575,"e":0.035},{"t":"2015-01-09T19:00","s":4,"v":0.565,"e":0.035},{"t":"2015-01-10T01:00","s":4,"v":0.56,"e":0.035},{"t":"2015-01-10T06:00","s":4,"v":0.56,"e":0.035},{"t":"2015-01-10T12:00","s":4,"v":0.562,"e":0.035},{"t":"2015-01-10T17:30","s":4,"v":0.565,"e":0.035},{"t":"2015-01-10T23:00","s":4,"v":0.57,"e":0.035},{"t":"2015-01-11T04:30","s":4,"v":0.565,"e":0.035},{"t":"2015-01-11T10:00","s":4,"v":0.568,"e":0.035},
{"t":"2015-01-11T18:30","s":4,"v":0.60,"e":0.03},{"t":"2015-01-12T01:00","s":4,"v":0.565,"e":0.035},{"t":"2015-01-12T08:30","s":4,"v":0.57,"e":0.035},{"t":"2015-01-12T15:00","s":4,"v":0.575,"e":0.035},{"t":"2015-01-12T22:30","s":4,"v":0.585,"e":0.035},{"t":"2015-01-13T05:00","s":4,"v":0.595,"e":0.035},{"t":"2015-01-13T12:00","s":4,"v":0.60,"e":0.035},{"t":"2015-01-13T19:00","s":4,"v":0.605,"e":0.035},{"t":"2015-01-14T02:00","s":4,"v":0.615,"e":0.035},{"t":"2015-01-14T09:00","s":4,"v":0.625,"e":0.035},{"t":"2015-01-14T16:00","s":4,"v":0.635,"e":0.035},{"t":"2015-01-14T23:00","s":4,"v":0.64,"e":0.035},{"t":"2015-01-15T06:00","s":4,"v":0.64,"e":0.035},{"t":"2015-01-15T13:00","s":4,"v":0.63,"e":0.035},{"t":"2015-01-15T20:00","s":4,"v":0.625,"e":0.035},{"t":"2015-01-16T02:30","s":4,"v":0.615,"e":0.035},{"t":"2015-01-16T10:00","s":4,"v":0.60,"e":0.035},{"t":"2015-01-16T16:30","s":4,"v":0.59,"e":0.035},{"t":"2015-01-17T00:00","s":4,"v":0.59,"e":0.035},
{"t":"2015-01-20T14:00","s":4,"v":0.632,"e":0.035},{"t":"2015-01-20T20:00","s":4,"v":0.625,"e":0.035},{"t":"2015-01-21T01:30","s":4,"v":0.62,"e":0.035},{"t":"2015-01-21T07:00","s":4,"v":0.595,"e":0.035},{"t":"2015-01-21T11:30","s":4,"v":0.568,"e":0.035},{"t":"2015-01-21T14:00","s":4,"v":0.557,"e":0.035},
{"t":"2015-01-21T18:00","s":4,"v":0.593,"e":0.035},{"t":"2015-01-22T00:00","s":4,"v":0.62,"e":0.035},{"t":"2015-01-22T05:30","s":4,"v":0.645,"e":0.035},{"t":"2015-01-22T12:00","s":4,"v":0.655,"e":0.035},
{"t":"2015-01-25T19:30","s":4,"v":0.628,"e":0.035},{"t":"2015-01-26T01:00","s":4,"v":0.62,"e":0.035},{"t":"2015-01-26T06:30","s":4,"v":0.615,"e":0.035},{"t":"2015-01-26T12:00","s":4,"v":0.635,"e":0.035},{"t":"2015-01-26T17:00","s":4,"v":0.64,"e":0.035},
{"t":"2015-01-31T09:00","s":4,"v":0.62,"e":0.035},{"t":"2015-01-31T13:00","s":4,"v":0.58,"e":0.035},{"t":"2015-01-31T17:30","s":4,"v":0.58,"e":0.035},{"t":"2015-01-31T22:00","s":4,"v":0.585,"e":0.035},{"t":"2015-02-01T02:30","s":4,"v":0.585,"e":0.035},{"t":"2015-02-01T07:00","s":4,"v":0.58,"e":0.035},{"t":"2015-02-01T11:30","s":4,"v":0.585,"e":0.035},{"t":"2015-02-01T16:00","s":4,"v":0.575,"e":0.035},{"t":"2015-02-01T19:30","s":4,"v":0.565,"e":0.035},{"t":"2015-02-01T22:30","s":4,"v":0.56,"e":0.035}
]
},
"vconcat":[
{
"width":647,"height":183,
"data":{"name":"top"},
"transform":[{"lookup":"s","from":{"data":{"name":"names"},"key":"s","fields":["station"]}}],
"encoding":{
"x":{"field":"t","type":"temporal","scale":{"domain":[{"year":2013,"month":1,"date":1},{"year":2020,"month":1,"date":1}],"nice":false},
"axis":{"title":null,"values":[{"year":2013,"month":1,"date":1},{"year":2014,"month":1,"date":1},{"year":2015,"month":1,"date":1},{"year":2016,"month":1,"date":1},{"year":2017,"month":1,"date":1},{"year":2018,"month":1,"date":1},{"year":2019,"month":1,"date":1},{"year":2020,"month":1,"date":1}],"format":"%Y","labelExpr":"year(datum.value) == 2013 ? '' : datum.label","labelAngle":-30,"labelAlign":"center","labelBaseline":"middle","labelOffset":-39,"labelPadding":21,"tickSize":6,"labelOverlap":false,"labelFlush":false}},
"y":{"field":"v","type":"quantitative","scale":{"domain":[-1.5,1.5],"nice":false,"zero":false},
"axis":{"title":"Δ̄τα [s]","values":[-1.4,-1.2,-1,-0.8,-0.6,-0.4,-0.2,0,0.2,0.4,0.6,0.8,1,1.2,1.4],"labelExpr":"abs(datum.value - round(datum.value)) < 0.001 ? format(datum.value, 'd') : ''","tickSize":{"condition":{"test":"abs(datum.value - round(datum.value)) < 0.001","value":6},"value":3.4},"labelPadding":11,"titlePadding":13,"labelOverlap":false}}
},
"layer":[
{"transform":[{"filter":"isValid(datum.e)"}],"mark":{"type":"errorbar","ticks":false,"thickness":1.5},"encoding":{"yError":{"field":"e"},"stroke":{"field":"station","type":"nominal","scale":{"domain":["IM.H03S1..EDH-IU.RAR.10.BHR","IM.H03S1..EDH-IU.RAR.10.BHZ","IM.H03S2..EDH-IU.RAR.10.BHZ","IM.H03S3..EDH-IU.RAR.10.BHZ"],"range":["#1f77b4","#ff7f0e","#2ca02c","#d62728"]},
"legend":{"title":null,"orient":"none","legendX":705,"legendY":145,"symbolOpacity":1}}}},
{"mark":{"type":"point","filled":true,"size":24,"opacity":1},"encoding":{"color":{"field":"station","type":"nominal","scale":{"domain":["IM.H03S1..EDH-IU.RAR.10.BHR","IM.H03S1..EDH-IU.RAR.10.BHZ","IM.H03S2..EDH-IU.RAR.10.BHZ","IM.H03S3..EDH-IU.RAR.10.BHZ"],"range":["#1f77b4","#ff7f0e","#2ca02c","#d62728"]},
"legend":{"title":null,"orient":"none","legendX":705,"legendY":145,"symbolOpacity":1}}}}
]
},
{
"width":647,"height":183,
"data":{"name":"bot"},
"transform":[{"lookup":"s","from":{"data":{"name":"names"},"key":"s","fields":["station"]}}],
"encoding":{
"x":{"field":"t","type":"temporal","scale":{"domain":[{"year":2015,"month":1,"date":1},{"year":2015,"month":2,"date":15}],"nice":false},
"axis":{"title":null,"values":[{"year":2015,"month":1,"date":1},{"year":2015,"month":1,"date":8},{"year":2015,"month":1,"date":15},{"year":2015,"month":1,"date":22},{"year":2015,"month":2,"date":1},{"year":2015,"month":2,"date":8},{"year":2015,"month":2,"date":15}],"format":"%Y-%m-%d","labelAngle":-30,"labelAlign":"center","labelBaseline":"middle","labelOffset":-1,"labelPadding":46,"tickSize":6,"labelOverlap":false,"labelFlush":false}},
"y":{"field":"v","type":"quantitative","scale":{"domain":[0.45,0.85],"nice":false,"zero":false},
"axis":{"title":"Δ̄τα [s]","values":[0.46,0.48,0.5,0.52,0.54,0.56,0.58,0.6,0.62,0.64,0.66,0.68,0.7,0.72,0.74,0.76,0.78,0.8,0.82,0.84],"labelExpr":"abs(datum.value*10 - round(datum.value*10)) < 0.001 ? format(datum.value, '.1f') : ''","tickSize":{"condition":{"test":"abs(datum.value*10 - round(datum.value*10)) < 0.001","value":6},"value":3.4},"labelPadding":11,"titlePadding":13,"labelOverlap":false}}
},
"layer":[
{"mark":{"type":"errorbar","ticks":false,"thickness":1.5,"opacity":0.55},"encoding":{"yError":{"field":"e"},"stroke":{"field":"station","type":"nominal","legend":{"title":null,"orient":"none","legendX":705,"legendY":145,"symbolOpacity":1}}}},
{"mark":{"type":"point","filled":true,"size":24,"opacity":1},"encoding":{"color":{"field":"station","type":"nominal","legend":{"title":null,"orient":"none","legendX":705,"legendY":145,"symbolOpacity":1}}}}
]
}
],
"config":{
"view":{"stroke":null},
"font":"DejaVu Sans",
"axis":{"domainColor":"#000","domainWidth":1.3,"tickColor":"#000","tickWidth":1.3,"labelColor":"#000","labelFont":"DejaVu Sans","labelFontSize":18.7,"titleFont":"DejaVu Sans","titleFontSize":18.7,"titleFontWeight":"normal","titleColor":"#000","grid":false},
"legend":{"symbolType":"M-0.05,-1L0.05,-1L0.05,1L-0.05,1Z M0.28,0A0.28,0.28,0,1,1,-0.28,0A0.28,0.28,0,1,1,0.28,0Z","symbolSize":225,"symbolStrokeWidth":1,"labelFont":"DejaVu Sans","labelFontSize":14.8,"labelColor":"#000","labelLimit":0,"rowPadding":24,"labelOffset":22.5,"padding":0}
}
}
